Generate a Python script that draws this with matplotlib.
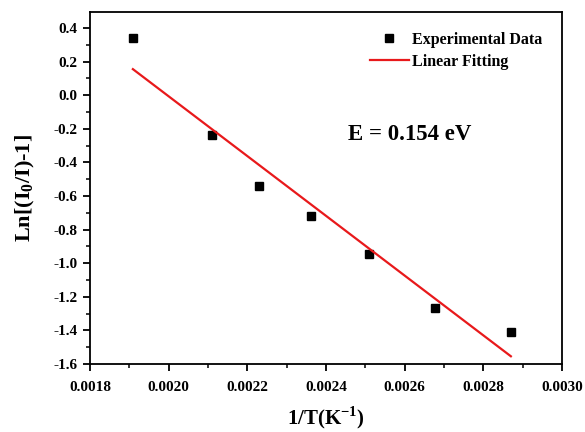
import numpy as np
import matplotlib
matplotlib.use("Agg")
import matplotlib.pyplot as plt
from matplotlib.ticker import MultipleLocator, FormatStrFormatter

plt.rcParams['font.family'] = 'Liberation Serif'
plt.rcParams['font.weight'] = 'bold'
plt.rcParams['axes.unicode_minus'] = False
plt.rcParams['mathtext.fontset'] = 'custom'
plt.rcParams['mathtext.rm'] = 'Liberation Serif:bold'

# data
inv_T = [0.001909, 0.00211, 0.00223, 0.002362, 0.002509, 0.002677, 0.00287]
ln_ratio = [0.34, -0.238, -0.542, -0.721, -0.948, -1.264, -1.407]
fit_x = [0.001909, 0.00287]
fit_y = [0.155, -1.554]

fig = plt.figure(figsize=(5.85, 4.32), dpi=100)
ax = fig.add_axes([90/585, 68/432, 472/585, 352/432])

ax.plot(inv_T, ln_ratio, 's', color='black', markersize=5.5, label='Experimental Data')
ax.plot(fit_x, fit_y, '-', color='#e8191b', linewidth=1.6, label='Linear Fitting')

ax.set_xlim(0.0018, 0.0030)
ax.set_ylim(-1.6, 0.495)
ax.xaxis.set_major_locator(MultipleLocator(0.0002))
ax.xaxis.set_minor_locator(MultipleLocator(0.0001))
ax.yaxis.set_major_locator(MultipleLocator(0.2))
ax.yaxis.set_minor_locator(MultipleLocator(0.1))
ax.xaxis.set_major_formatter(FormatStrFormatter('%.4f'))
ax.yaxis.set_major_formatter(FormatStrFormatter('%.1f'))

for s in ax.spines.values():
    s.set_linewidth(1.3)
ax.tick_params(which='major', direction='out', length=5, width=1.3, labelsize=11, pad=4)
ax.tick_params(axis='x', which='major', pad=7)
ax.tick_params(which='minor', direction='out', length=3, width=1.1)

ax.set_xlabel('1/T(K$^{\\mathregular{-1}}$)', fontsize=15, fontweight='bold', labelpad=8)
ax.set_ylabel('Ln[(I$_{\\mathregular{0}}$/I)-1]', fontsize=16, fontweight='bold', labelpad=12)

ax.text(0.547, 0.635, 'E = 0.154 eV', transform=ax.transAxes, fontsize=16.5, fontweight='bold')

ax.legend(loc='upper left', bbox_to_anchor=(0.593, 0.944), frameon=False,
          fontsize=11.5, handlelength=2.45, handletextpad=0.2, labelspacing=0.38,
          borderpad=0, borderaxespad=0)

fig.savefig('out.png', dpi=100)
